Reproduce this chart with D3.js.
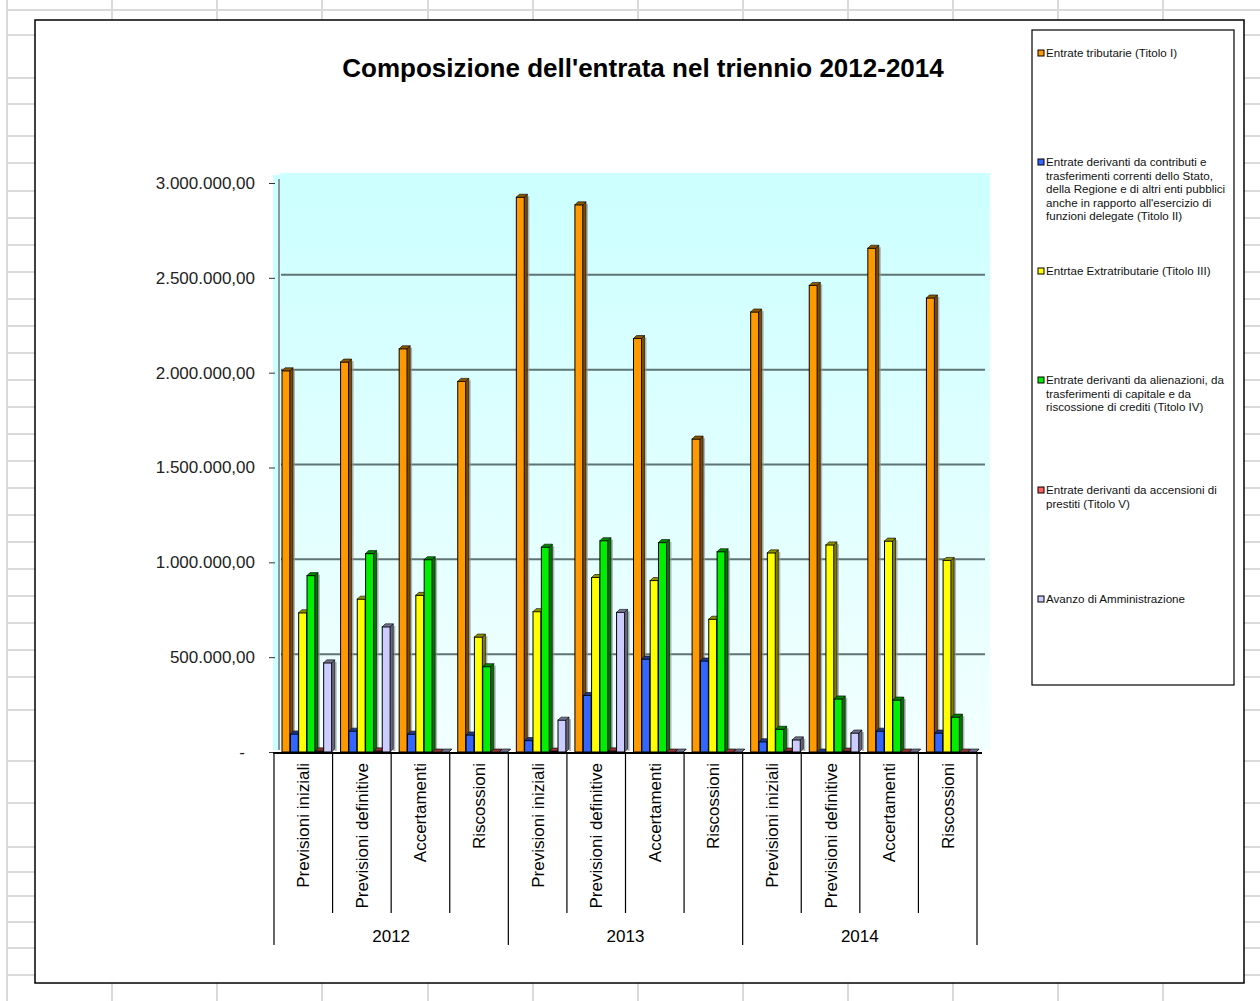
<html lang="it">
<head>
<meta charset="utf-8">
<title>Composizione dell'entrata nel triennio 2012-2014</title>
<script src="https://d3js.org/d3.v7.min.js"></script>
<style>
  body { margin: 0; background: white; }
  text { font-family: "Liberation Sans", Arial, sans-serif; }
</style>
</head>
<body>
<script>

// data
var years = ["2012", "2013", "2014"];
var phases = ["Previsioni iniziali", "Previsioni definitive", "Accertamenti", "Riscossioni"];
var seriesNames = [
  "Entrate tributarie (Titolo I)",
  "Entrate derivanti da contributi e trasferimenti correnti dello Stato, della Regione e di altri enti pubblici anche in rapporto all'esercizio di funzioni delegate (Titolo II)",
  "Entrtae Extratributarie (Titolo III)",
  "Entrate derivanti da alienazioni, da trasferimenti di capitale e da riscossione di crediti (Titolo IV)",
  "Entrate derivanti da accensioni di prestiti (Titolo V)",
  "Avanzo di Amministrazione"
];
// values per series, 2012 x4, 2013 x4, 2014 x4
var titoloI   = [2010000, 2056000, 2126000, 1954000, 2925000, 2885000, 2180000, 1650000, 2320000, 2460000, 2656000, 2394000];
var titoloII  = [95000, 110000, 94000, 90000, 60000, 298000, 490000, 480000, 54000, 0, 110000, 100000];
var titoloIII = [734000, 806000, 826000, 606000, 740000, 920000, 904000, 700000, 1050000, 1092000, 1112000, 1010000];
var titoloIV  = [930000, 1046000, 1014000, 450000, 1080000, 1114000, 1104000, 1056000, 120000, 280000, 274000, 184000];
var titoloV   = [6000, 6000, 0, 0, 5000, 6000, 0, 0, 5000, 5000, 0, 0];
var avanzo    = [470000, 660000, 0, 0, 168000, 736000, 0, 0, 64000, 100000, 0, 0];
var yTicks = [0, 500000, 1000000, 1500000, 2000000, 2500000, 3000000];

var allSeries = [titoloI, titoloII, titoloIII, titoloIV, titoloV, avanzo];
var colors = ["#ff9900", "#3366ff", "#ffff00", "#00ee00", "#ff6060", "#ccccff"];

var w = 1260, h = 1001;
var svg = d3.select("body").append("svg").attr("width", w).attr("height", h);

svg.append("rect").attr("width", w).attr("height", h).attr("fill", "white");

// spreadsheet grid behind the chart
var rowLines = [10, 35, 78, 104, 136, 163, 191, 218, 245, 272, 299, 326, 353, 380, 407, 434, 461, 488, 515, 542, 569, 596, 623, 650, 677, 710, 761, 803, 847, 872, 896, 922, 948, 975];
var colLines = [7, 112, 217, 322, 428, 533, 638, 743, 848, 953, 1058, 1163];
var grid = svg.append("g").attr("stroke", "#dadada").attr("stroke-width", 2);
rowLines.forEach(function(y) {
  grid.append("line").attr("x1", 7).attr("x2", w).attr("y1", y).attr("y2", y);
});
colLines.forEach(function(x) {
  grid.append("line").attr("x1", x).attr("x2", x).attr("y1", 0).attr("y2", h);
});

// chart area
svg.append("rect")
  .attr("x", 35).attr("y", 20).attr("width", 1209).attr("height", 963)
  .attr("fill", "white").attr("stroke", "black").attr("stroke-width", 1.5);

svg.append("text")
  .attr("x", 643).attr("y", 77)
  .attr("text-anchor", "middle")
  .attr("font-size", "26px").attr("font-weight", "bold")
  .text("Composizione dell'entrata nel triennio 2012-2014");

// scales
var keys = [];
years.forEach(function(yr) { phases.forEach(function(p) { keys.push(yr + "|" + p); }); });

var x = d3.scaleBand().domain(keys).range([274, 977]);
var xs = d3.scaleBand().domain(d3.range(allSeries.length)).range([8, 58]);
var y = d3.scaleLinear().domain([0, 3000000]).range([752, 183]);

var itLocale = d3.formatLocale({decimal: ",", thousands: ".", grouping: [3], currency: ["", ""]});
var fmt = itLocale.format(",.2f");

// wall
var defs = svg.append("defs");
var grad = defs.append("linearGradient").attr("id", "wall").attr("x1", 0).attr("x2", 0).attr("y1", 0).attr("y2", 1);
grad.append("stop").attr("offset", "0%").attr("stop-color", "#ccffff");
grad.append("stop").attr("offset", "100%").attr("stop-color", "#f2ffff");

var d = 3;
svg.append("rect")
  .attr("x", 273).attr("y", y(3000000) - 8).attr("width", 8).attr("height", y(0) - y(3000000) + 6)
  .attr("fill", "#ccffff");
svg.append("rect")
  .attr("x", 280).attr("y", y(3000000) - 10).attr("width", 710).attr("height", y(0) - y(3000000) + 8)
  .attr("fill", "url(#wall)");
svg.append("line")
  .attr("x1", 279).attr("x2", 279).attr("y1", y(3000000) - 4).attr("y2", y(0) - 2)
  .attr("stroke", "#8a9a9a").attr("stroke-width", 2);

// gridlines
svg.append("g").selectAll("line")
  .data(yTicks.filter(function(t) { return t > 0 && t < 3000000; }))
  .enter().append("line")
  .attr("x1", 281).attr("x2", 985)
  .attr("y1", function(t) { return y(t) - d; }).attr("y2", function(t) { return y(t) - d; })
  .attr("stroke", "#5f7474").attr("stroke-width", 2);

// y axis
var yAxis = d3.axisLeft(y).tickValues(yTicks).tickSize(6).tickPadding(14)
  .tickFormat(function(v) { return v === 0 ? "-" : fmt(v); });
var ya = svg.append("g").attr("transform", "translate(275,0)").call(yAxis);
ya.select(".domain").remove();
ya.selectAll("line").attr("stroke", "#333");
ya.selectAll("text").attr("font-size", "17px").attr("fill", "#222")
  .attr("font-family", "'Liberation Sans', Arial, sans-serif");
ya.selectAll("text").filter(function(v) { return v === 0; }).attr("dx", -10);

// bars
function darker(c, k) { return d3.color(c).darker(k).formatHex(); }

var barData = [];
keys.forEach(function(key, i) {
  allSeries.forEach(function(arr, s) {
    barData.push({key: key, s: s, v: arr[i]});
  });
});

var bw = 8;
var bars = svg.append("g").selectAll("g").data(barData).enter().append("g");

bars.append("rect")
  .attr("x", function(b) { return x(b.key) + xs(b.s) + bw + d; })
  .attr("y", function(b) { return y(b.v) - d + 2; })
  .attr("width", 2)
  .attr("height", function(b) { return y(0) - y(b.v); })
  .attr("fill", "#999").attr("opacity", 0.7);

bars.append("rect")
  .attr("x", function(b) { return x(b.key) + xs(b.s); })
  .attr("y", function(b) { return y(b.v); })
  .attr("width", bw)
  .attr("height", function(b) { return y(0) - y(b.v); })
  .attr("fill", function(b) { return colors[b.s]; })
  .attr("stroke", "black").attr("stroke-width", 1);

bars.append("path")
  .attr("d", function(b) {
    var x0 = x(b.key) + xs(b.s) + bw, y0 = y(b.v), yb = y(0);
    return "M" + x0 + "," + y0 + "L" + (x0 + d) + "," + (y0 - d) + "L" + (x0 + d) + "," + (yb - d) + "L" + x0 + "," + yb + "Z";
  })
  .attr("fill", function(b) { return darker(colors[b.s], 2); })
  .attr("stroke", "black").attr("stroke-width", 0.6);

bars.append("path")
  .attr("d", function(b) {
    var x0 = x(b.key) + xs(b.s), y0 = y(b.v);
    return "M" + x0 + "," + y0 + "L" + (x0 + d) + "," + (y0 - d) + "L" + (x0 + bw + d) + "," + (y0 - d) + "L" + (x0 + bw) + "," + y0 + "Z";
  })
  .attr("fill", function(b) { return darker(colors[b.s], 1.6); })
  .attr("stroke", "black").attr("stroke-width", 0.6);

// category axis
svg.append("line")
  .attr("x1", 273).attr("x2", 982).attr("y1", y(0) + 1).attr("y2", y(0) + 1)
  .attr("stroke", "black").attr("stroke-width", 2);

var xg = svg.append("g");
keys.forEach(function(key, i) {
  var left = x(key);
  var isYearStart = i % phases.length === 0;
  xg.append("line")
    .attr("x1", left).attr("x2", left)
    .attr("y1", y(0)).attr("y2", isYearStart ? 945 : 913)
    .attr("stroke", "black").attr("stroke-width", 1.2);
  var cx = left + x.bandwidth() / 2;
  xg.append("text")
    .attr("transform", "translate(" + (cx + 6) + "," + (y(0) + 11) + ") rotate(-90)")
    .attr("text-anchor", "end")
    .attr("font-size", "17px")
    .text(key.split("|")[1]);
});
xg.append("line")
  .attr("x1", x.range()[1]).attr("x2", x.range()[1])
  .attr("y1", y(0)).attr("y2", 945)
  .attr("stroke", "black").attr("stroke-width", 1.2);

years.forEach(function(yr) {
  var a = x(yr + "|" + phases[0]);
  var b = x(yr + "|" + phases[phases.length - 1]) + x.bandwidth();
  xg.append("text")
    .attr("x", (a + b) / 2).attr("y", 942)
    .attr("text-anchor", "middle")
    .attr("font-size", "17px")
    .text(yr);
});

// legend
var lg = svg.append("g");
lg.append("rect")
  .attr("x", 1032).attr("y", 30).attr("width", 202).attr("height", 655)
  .attr("fill", "white").attr("stroke", "black").attr("stroke-width", 1.2);

var legendLines = [
  ["Entrate tributarie (Titolo I)"],
  ["Entrate derivanti da contributi e", "trasferimenti correnti dello Stato,", "della Regione e di altri enti pubblici", "anche in rapporto all'esercizio di", "funzioni delegate (Titolo II)"],
  ["Entrtae Extratributarie (Titolo III)"],
  ["Entrate derivanti da alienazioni, da", "trasferimenti di capitale e da", "riscossione di crediti (Titolo IV)"],
  ["Entrate derivanti da accensioni di", "prestiti (Titolo V)"],
  ["Avanzo di Amministrazione"]
];
var legendY = [57, 166, 275, 384, 494, 603];

legendLines.forEach(function(lines, s) {
  var ly = legendY[s];
  lg.append("rect")
    .attr("x", 1038).attr("y", ly - 7).attr("width", 6).attr("height", 6)
    .attr("fill", colors[s]).attr("stroke", "black").attr("stroke-width", 1);
  var t = lg.append("text").attr("x", 1046).attr("y", ly).attr("font-size", "11.6px").attr("fill", "#111");
  lines.forEach(function(line, k) {
    t.append("tspan").attr("x", 1046).attr("dy", k === 0 ? 0 : 13.5).text(line);
  });
});

</script>
</body>
</html>
